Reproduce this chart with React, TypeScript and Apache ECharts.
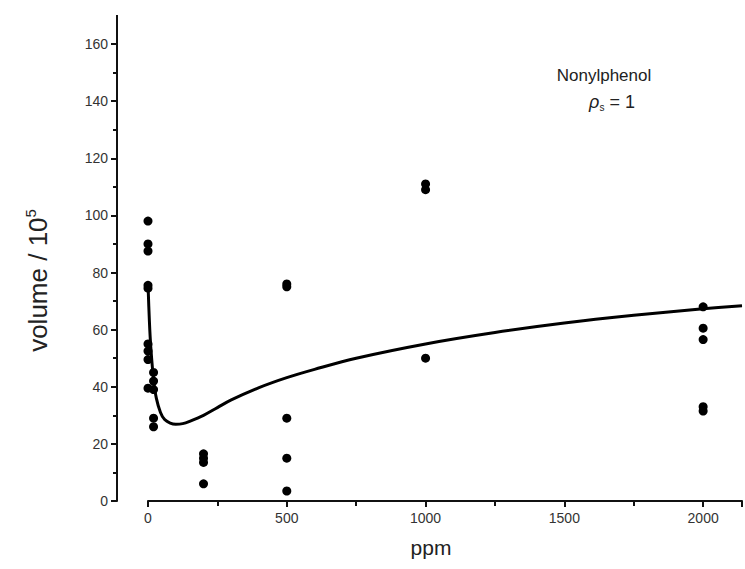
import React, { useEffect, useRef } from 'react';
import * as echarts from 'echarts';

// Measured points (ppm, volume / 10^5)
const pointPpm = [
  0, 0, 0, 0, 0, 0, 0, 0, 0,
  20, 20, 20, 20, 20,
  200, 200, 200, 200,
  500, 500, 500, 500, 500,
  1000, 1000, 1000,
  2000, 2000, 2000, 2000, 2000,
];
const pointVolume = [
  98, 90, 87.5, 75.5, 74.5, 55, 52.5, 49.5, 39.5,
  45, 42, 39, 29, 26,
  16.5, 15, 13.5, 6,
  76, 75, 29, 15, 3.5,
  111, 109, 50,
  68, 60.5, 56.5, 33, 31.5,
];

// Fitted curve
const curvePpm = [0, 5, 10, 20, 30, 45, 60, 80, 100, 125, 150, 200, 250, 300, 400, 500, 600, 750, 1000, 1250, 1500, 1750, 2000, 2140];
const curveVolume = [76, 63, 54, 42.5, 36, 31, 28.5, 27.3, 26.9, 27.1, 27.9, 30, 32.7, 35.4, 39.7, 43.2, 46.1, 50, 55, 59, 62.3, 65, 67.3, 68.4];

const xMax = 2140;
const yMax = 160;
const xInterval = 500;
const yInterval = 20;

const FONT = '"Liberation Sans", Arial, Helvetica, sans-serif';

export default function App() {
  const ref = useRef<HTMLDivElement>(null);

  useEffect(() => {
    if (!ref.current) return;
    const chart = echarts.init(ref.current, undefined, { renderer: 'svg' });
    const scatterData = pointPpm.map((p, i) => [p, pointVolume[i]]);
    const curveData = curvePpm.map((p, i) => [p, curveVolume[i]]);

    chart.setOption({
      animation: false,
      backgroundColor: '#ffffff',
      textStyle: { fontFamily: FONT },
      grid: { left: 148, right: 0, top: 44, bottom: 68, containLabel: false },
      xAxis: {
        type: 'value',
        min: 0,
        max: xMax,
        interval: xInterval,
        name: 'ppm',
        nameLocation: 'middle',
        nameGap: 36,
        nameTextStyle: { fontSize: 21, color: '#222', fontFamily: FONT, padding: [0, 28, 0, 0] },
        axisLine: { show: true, onZero: false, lineStyle: { color: '#111', width: 2 } },
        axisTick: { show: true, inside: false, length: 6, lineStyle: { color: '#111', width: 2 } },
        minorTick: { show: true, splitNumber: 2, length: 5, lineStyle: { color: '#111', width: 2 } },
        splitLine: { show: false },
        axisLabel: {
          margin: 10,
          fontSize: 14,
          color: '#333',
          fontFamily: FONT,
          formatter: (v: number) => (v % xInterval === 0 ? String(v) : ''),
        },
      },
      yAxis: {
        type: 'value',
        min: 0,
        max: yMax,
        interval: yInterval,
        offset: 31,
        name: 'volume / 10{sup|5}',
        nameLocation: 'middle',
        nameGap: 65,
        nameRotate: 90,
        nameTextStyle: {
          fontSize: 26,
          color: '#222',
          fontFamily: FONT,
          padding: [0, 0, 0, -16],
          rich: {
            sup: { fontSize: 15, fontFamily: FONT, color: '#222', verticalAlign: 'top', padding: [0, 0, 14, 0] },
          },
        },
        axisLine: { show: true, onZero: false, lineStyle: { color: '#111', width: 2 } },
        axisTick: { show: true, inside: false, length: 6, lineStyle: { color: '#111', width: 2 } },
        minorTick: { show: true, splitNumber: 2, length: 4, lineStyle: { color: '#111', width: 2 } },
        splitLine: { show: false },
        axisLabel: { margin: 9, fontSize: 14, color: '#333', fontFamily: FONT },
      },
      graphic: [
        {
          type: 'line',
          shape: { x1: 117, y1: 15, x2: 117, y2: 45 },
          style: { stroke: '#111', lineWidth: 2 },
        },
        {
          type: 'text',
          x: 604,
          y: 75,
          style: {
            text: 'Nonylphenol',
            fontSize: 17,
            fontFamily: FONT,
            fill: '#222',
            textAlign: 'center',
            textVerticalAlign: 'middle',
          },
        },
        {
          type: 'text',
          x: 612,
          y: 102,
          style: {
            text: '{i|ρ}{sub|s} = 1',
            fontSize: 18,
            fontFamily: FONT,
            fill: '#222',
            textAlign: 'center',
            textVerticalAlign: 'middle',
            rich: {
              i: { fontSize: 18, fontStyle: 'italic', fontFamily: FONT, fill: '#222' },
              sub: { fontSize: 10, fontFamily: FONT, fill: '#222', verticalAlign: 'bottom', padding: [10, 0, 0, 0] },
            },
          },
        },
      ],
      series: [
        {
          type: 'line',
          data: curveData,
          smooth: 0.35,
          showSymbol: false,
          symbol: 'none',
          lineStyle: { color: '#000', width: 3 },
          z: 2,
        },
        {
          type: 'scatter',
          data: scatterData,
          symbol: 'circle',
          symbolSize: 9,
          itemStyle: { color: '#000', opacity: 1 },
          z: 3,
        },
      ],
    });

    return () => chart.dispose();
  }, []);

  return (
    <div
      ref={ref}
      style={{ position: 'fixed', left: 0, top: 0, width: 745, height: 569, background: '#fff' }}
    />
  );
}
